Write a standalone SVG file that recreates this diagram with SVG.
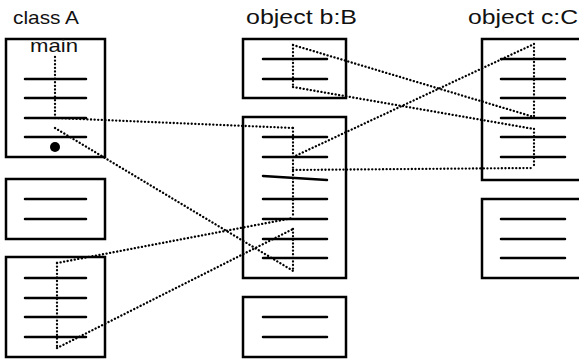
<svg xmlns="http://www.w3.org/2000/svg" width="579" height="360" viewBox="0 0 579 360">
  <style>
    .box { fill: #fff; stroke: #000; stroke-width: 2.5; }
    .ln { stroke: #000; stroke-width: 2.5; stroke-linecap: round; fill: none; }
    .dot { stroke: #000; stroke-width: 2.3; stroke-linecap: round; stroke-dasharray: 0.1 3.5; fill: none; }
    .title { font-family: "Liberation Sans", Arial, sans-serif; font-size: 21px; fill: #111; }
  </style>

  <!-- column titles -->
  <text class="title" x="13" y="24" textLength="66" lengthAdjust="spacingAndGlyphs" style="font-size:18.5px">class A</text>
  <text class="title" x="246" y="24" textLength="111" lengthAdjust="spacingAndGlyphs">object b:B</text>
  <text class="title" x="468" y="24" textLength="110" lengthAdjust="spacingAndGlyphs">object c:C</text>

  <!-- class A -->
  <g id="a-main">
    <rect class="box" x="6" y="39" width="99" height="118"/>
    <text class="title" x="30" y="52" textLength="48" lengthAdjust="spacingAndGlyphs" style="font-size:19px">main</text>
    <path class="ln" d="M25 79H86M25 98H86M25 118H86M25 137H86"/>
    <circle cx="55" cy="147" r="5" fill="#000"/>
  </g>
  <g id="a-2">
    <rect class="box" x="6" y="179" width="99" height="60"/>
    <path class="ln" d="M25 199H86M25 219H86"/>
  </g>
  <g id="a-3">
    <rect class="box" x="6" y="257" width="99" height="100"/>
    <path class="ln" d="M25 278H86M25 298H86M25 317H86M25 337H86"/>
  </g>

  <!-- object b:B -->
  <g id="b-1">
    <rect class="box" x="243" y="39" width="103" height="59"/>
    <path class="ln" d="M263 59H327M263 79H327"/>
  </g>
  <g id="b-2">
    <rect class="box" x="243" y="117" width="103" height="161"/>
    <path class="ln" d="M263 137H327M263 157H327M263 176L327 180M263 199H327M263 219H327M263 239H327M263 258H327"/>
  </g>
  <g id="b-3">
    <rect class="box" x="243" y="297" width="103" height="60"/>
    <path class="ln" d="M263 317H327M263 337H327"/>
  </g>

  <!-- object c:C -->
  <g id="c-1">
    <rect class="box" x="482" y="39" width="110" height="141"/>
    <path class="ln" d="M501 59H565M501 79H565M501 98H565M501 118H565M501 137H565M501 157H565"/>
  </g>
  <g id="c-2">
    <rect class="box" x="482" y="199" width="110" height="79"/>
    <path class="ln" d="M501 219H565M501 239H565M501 258H565"/>
  </g>

  <!-- execution traces and calls -->
  <g id="connectors">
    <!-- inside class A -->
    <path class="dot" d="M55 57V118"/>
    <path class="dot" d="M57 263V348"/>
    <!-- inside b:B -->
    <path class="dot" d="M293 45V87"/>
    <path class="dot" d="M293 128V218"/>
    <path class="dot" d="M293 229V272"/>
    <!-- inside c:C -->
    <path class="dot" d="M534 44V117"/>
    <path class="dot" d="M534 129V168"/>
    <!-- A to B -->
    <path class="dot" d="M55 118L293 128"/>
    <path class="dot" d="M55 128L295 272"/>
    <path class="dot" d="M57 263L293 218"/>
    <path class="dot" d="M57 348L293 229"/>
    <!-- B to C -->
    <path class="dot" d="M293 45L534 117"/>
    <path class="dot" d="M293 87L534 129"/>
    <path class="dot" d="M293 157L534 44"/>
    <path class="dot" d="M293 170L534 168"/>
  </g>
</svg>
